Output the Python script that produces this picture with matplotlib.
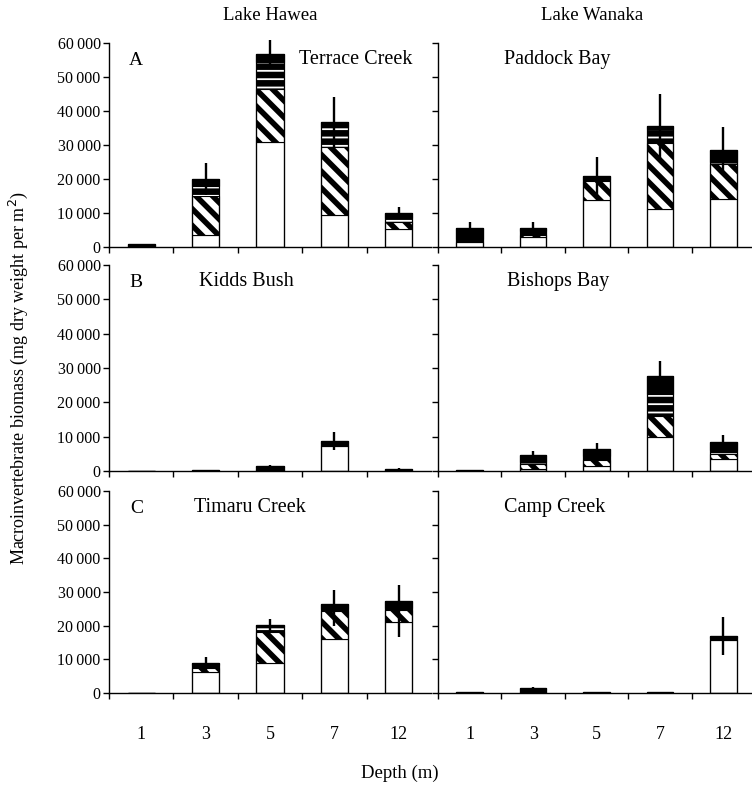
import matplotlib
matplotlib.use('Agg')
import matplotlib.pyplot as plt
from matplotlib.ticker import FuncFormatter
import numpy as np

plt.rcParams['font.family'] = ['Liberation Serif', 'DejaVu Serif']

# sites in panel order (left column Lake Hawea, right column Lake Wanaka)
sites = ['Terrace Creek', 'Paddock Bay', 'Kidds Bush', 'Bishops Bay', 'Timaru Creek', 'Camp Creek']
letters = ['A', '', 'B', '', 'C', '']
depths = ['1', '3', '5', '7', '12']

# biomass per stack segment (mg dry weight per m2), one row per site
white = [
    [0, 3400, 31000, 9300, 5200],
    [1500, 3000, 13800, 11200, 14000],
    [0, 100, 300, 7300, 200],
    [0, 500, 1500, 10000, 3500],
    [0, 6200, 8800, 16000, 21000],
    [0, 400, 100, 100, 15700],
]
hatched = [
    [0, 11500, 15400, 20200, 2200],
    [0, 500, 5600, 19500, 10500],
    [0, 0, 300, 300, 0],
    [0, 1500, 1800, 6000, 1500],
    [0, 1200, 9400, 8500, 3800],
    [0, 300, 0, 0, 0],
]
dashed = [
    [0, 3000, 8000, 5800, 1200],
    [1000, 1300, 300, 3900, 500],
    [0, 0, 300, 400, 100],
    [0, 500, 1200, 6300, 1000],
    [0, 1000, 1500, 500, 400],
    [0, 300, 0, 100, 500],
]
solid = [
    [800, 2000, 2300, 1400, 1400],
    [3000, 900, 1200, 1000, 3600],
    [0, 100, 600, 800, 300],
    [300, 2300, 1800, 5300, 2400],
    [0, 500, 500, 1400, 2100],
    [200, 600, 200, 200, 800],
]
err_hi = [
    [0, 4700, 4100, 7300, 1800],
    [1800, 1800, 5500, 9300, 6800],
    [0, 0, 300, 2700, 300],
    [0, 1000, 1800, 4300, 2000],
    [0, 1900, 1700, 4300, 4800],
    [0, 300, 0, 0, 5700],
]
err_lo = [
    [0, 4700, 4100, 7300, 1800],
    [1800, 1800, 5500, 9300, 6800],
    [0, 0, 300, 2700, 300],
    [0, 1000, 1800, 4300, 2000],
    [0, 2200, 2000, 6500, 10800],
    [0, 300, 0, 0, 5700],
]

W, H = 752, 790
fig = plt.figure(figsize=(W / 100, H / 100), dpi=100)

cols = [(109, 431), (438, 752)]
rows = [(43, 247), (265, 471), (491, 693)]
name_x = [[0.59, 0.21], [0.28, 0.22], [0.265, 0.21]]

x = np.arange(len(depths))
width = 0.42
fmt = FuncFormatter(lambda v, p: f"{int(v):,}".replace(',', '\u2009'))

for i, site in enumerate(sites):
    r, c = i // 2, i % 2
    x0, x1 = cols[c]
    y0, y1 = rows[r]
    ax = fig.add_axes([x0 / W, 1 - y1 / H, (x1 - x0) / W, (y1 - y0) / H])

    w = np.array(white[i]); h = np.array(hatched[i])
    d = np.array(dashed[i]); s = np.array(solid[i])
    total = w + h + d + s

    ax.bar(x, w, width, facecolor='white', edgecolor='black', lw=0.8)
    ax.bar(x, h, width, bottom=w, facecolor='white', edgecolor='black',
           hatch='\\\\', lw=0.8, hatch_linewidth=4.0)
    ax.bar(x, d, width, bottom=w + h, facecolor='black', edgecolor='white',
           hatch='--', lw=0, hatch_linewidth=1.3)
    ax.bar(x, s, width, bottom=w + h + d, facecolor='black', edgecolor='black', lw=0.8)
    ax.bar(x, total, width, fill=False, edgecolor='black', lw=0.9)
    ax.errorbar(x, total, yerr=[err_lo[i], err_hi[i]], fmt='none', ecolor='black',
                elinewidth=1.7, capsize=0, clip_on=False, zorder=5)

    ax.set_ylim(0, 60000)
    ax.set_xlim(-0.5, 4.5 if c == 0 else 4.45)
    ax.set_yticks(np.arange(0, 60001, 10000))
    ax.yaxis.set_major_formatter(fmt)
    ax.set_xticks([-0.5, 0.5, 1.5, 2.5, 3.5])
    ax.set_xticklabels([])
    ax.set_xticks(x, minor=True)
    ax.tick_params(axis='x', which='minor', length=0, pad=24, labelsize=13)
    if r == 2:
        ax.set_xticklabels(depths, minor=True)
    ax.tick_params(axis='both', which='major', direction='out', length=4, width=1)
    ax.tick_params(axis='y', labelsize=11.5, pad=2, labelleft=(c == 0))
    for sp in ['top', 'right']:
        ax.spines[sp].set_visible(False)
    for sp in ['left', 'bottom']:
        ax.spines[sp].set_linewidth(1.0)

    if letters[i]:
        ax.text(0.085, 0.915, letters[i], transform=ax.transAxes, fontsize=14,
                ha='center', va='center')
    ax.text(name_x[r][c], 0.92, site, transform=ax.transAxes, fontsize=14.5,
            ha='left', va='center')

fig.text(270 / W, 1 - 15 / H, 'Lake Hawea', ha='center', va='center', fontsize=13.5)
fig.text(592 / W, 1 - 15 / H, 'Lake Wanaka', ha='center', va='center', fontsize=13.5)
fig.text(400 / W, 1 - 773 / H, 'Depth (m)', ha='center', va='center', fontsize=13.5)
fig.text(18 / W, 1 - 378 / H, 'Macroinvertebrate biomass (mg dry weight per m$^2$)',
         rotation=90, ha='center', va='center', fontsize=13)

fig.savefig('out.png', dpi=100)
